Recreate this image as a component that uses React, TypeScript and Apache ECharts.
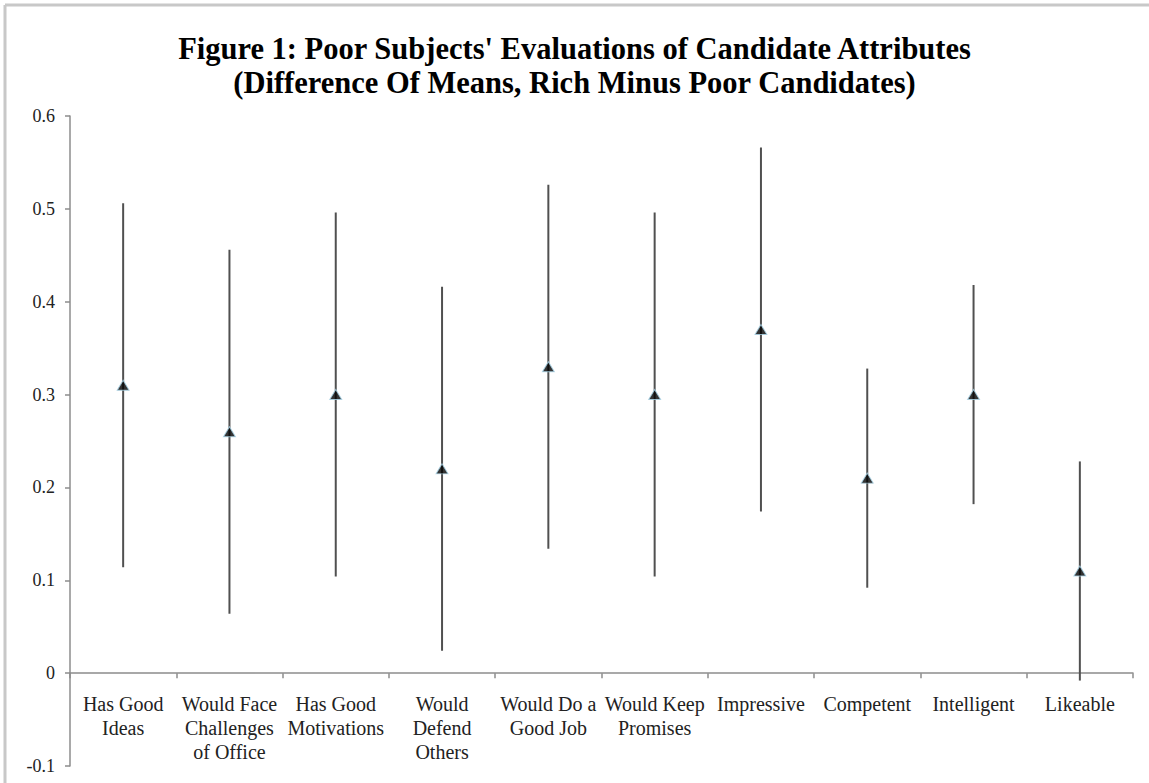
import React, { useEffect, useRef } from "react";
import * as echarts from "echarts";

const categories = [
  "Has Good\nIdeas",
  "Would Face\nChallenges\nof Office",
  "Has Good\nMotivations",
  "Would\nDefend\nOthers",
  "Would Do a\nGood Job",
  "Would Keep\nPromises",
  "Impressive",
  "Competent",
  "Intelligent",
  "Likeable",
];
const means = [0.31, 0.26, 0.3, 0.22, 0.33, 0.3, 0.37, 0.21, 0.3, 0.11];
const lower = [0.114, 0.064, 0.104, 0.024, 0.134, 0.104, 0.174, 0.092, 0.182, -0.008];
const upper = [0.506, 0.456, 0.496, 0.416, 0.526, 0.496, 0.566, 0.328, 0.418, 0.228];
const yTicks = { min: -0.1, max: 0.6, interval: 0.1 };

const SERIF = "'Liberation Serif', 'Times New Roman', 'DejaVu Serif', serif";

const GRID_TOP = 116;
const GRID_BOTTOM = 17;
const CHART_H = 783;

export default function App() {
  const ref = useRef<HTMLDivElement>(null);
  useEffect(() => {
    if (!ref.current) return;
    const chart = echarts.init(ref.current, undefined, { renderer: "svg" });
    const errData = categories.map((_, i) => [i, lower[i], upper[i]]);
    const gridH = CHART_H - GRID_TOP - GRID_BOTTOM;
    // raise the category axis to the zero line
    const zeroOffset = -((0 - yTicks.min) / (yTicks.max - yTicks.min)) * gridH;
    chart.setOption({
      animation: false,
      backgroundColor: "#ffffff",
      title: {
        text: "Figure 1: Poor Subjects' Evaluations of Candidate Attributes\n(Difference Of Means, Rich Minus Poor Candidates)",
        left: "center",
        top: 27,
        textStyle: {
          fontFamily: SERIF,
          fontWeight: "bold",
          fontSize: 30.5,
          lineHeight: 34,
          color: "#000",
        },
      },
      graphic: [
        { type: "line", shape: { x1: 5, y1: 5, x2: 1149, y2: 5 }, style: { stroke: "#c8c8c8", lineWidth: 3 } },
        { type: "line", shape: { x1: 5, y1: 5, x2: 5, y2: 783 }, style: { stroke: "#c8c8c8", lineWidth: 3 } },
      ],
      grid: { left: 70, right: 16, top: GRID_TOP, bottom: GRID_BOTTOM, containLabel: false, outerBoundsMode: "none" },
      xAxis: {
        type: "category",
        data: categories,
        offset: zeroOffset,
        axisLine: { onZero: false, lineStyle: { color: "#8c8c8c", width: 1.5 } },
        axisTick: { show: true, length: 5, alignWithLabel: false, lineStyle: { color: "#8c8c8c", width: 1.5 } },
        axisLabel: {
          interval: 0,
          margin: 19,
          fontFamily: SERIF,
          fontSize: 20,
          lineHeight: 24,
          color: "#222",
        },
        splitLine: { show: false },
      },
      yAxis: {
        type: "value",
        min: yTicks.min,
        max: yTicks.max,
        interval: yTicks.interval,
        axisLine: { show: true, lineStyle: { color: "#8c8c8c", width: 1.5 } },
        axisTick: { show: true, length: 5, lineStyle: { color: "#8c8c8c", width: 1.5 } },
        axisLabel: {
          margin: 15,
          fontFamily: SERIF,
          fontSize: 18,
          color: "#222",
        },
        splitLine: { show: false },
      },
      series: [
        {
          type: "custom",
          data: errData,
          encode: { x: 0, y: [1, 2] },
          renderItem: (params: any, api: any) => {
            const x = api.value(0);
            const lo = api.coord([x, api.value(1)]);
            const hi = api.coord([x, api.value(2)]);
            return {
              type: "line",
              shape: { x1: lo[0], y1: lo[1], x2: hi[0], y2: hi[1] },
              style: { stroke: "#505050", lineWidth: 2 },
            };
          },
          z: 2,
        },
        {
          type: "scatter",
          data: means.map((v, i) => [i, v]),
          symbol: "triangle",
          symbolSize: [12, 10],
          itemStyle: { color: "#000", borderColor: "#a9d4e8", borderWidth: 1 },
          z: 3,
        },
      ],
    });
    return () => chart.dispose();
  }, []);
  return (
    <div
      ref={ref}
      style={{ position: "fixed", left: 0, top: 0, width: 1149, height: 783, background: "#fff" }}
    />
  );
}
